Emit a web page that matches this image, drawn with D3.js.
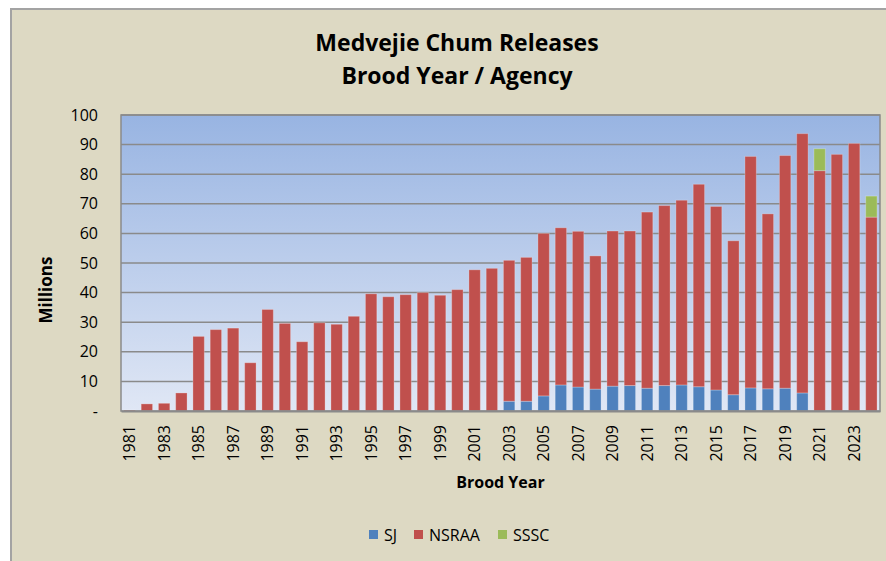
<!DOCTYPE html>
<html>
<head>
<meta charset="utf-8">
<script src="https://cdn.jsdelivr.net/npm/d3@7"></script>
<style>
  body { margin: 0; background: #fff; }
  text { font-family: "Open Sans", "Noto Sans", sans-serif; fill: #000; }
</style>
</head>
<body>
<div id="chart"></div>
<script>
var svgWidth = 886;
var svgHeight = 561;

// brood years and releases (millions) per agency
var years = d3.range(1981, 2025);
var sj = [0, 0, 0, 0, 0, 0, 0, 0, 0, 0,
          0, 0, 0, 0, 0, 0, 0, 0, 0, 0,
          0, 0, 3.3, 3.3, 5.1, 8.8, 8.1, 7.4, 8.4, 8.6,
          7.7, 8.6, 8.8, 8.2, 7.1, 5.5, 7.8, 7.5, 7.7, 6.1,
          0, 0, 0, 0];
var nsraa = [0.3, 2.4, 2.6, 6.1, 25.2, 27.5, 28.0, 16.3, 34.3, 29.6,
             23.4, 29.8, 29.3, 32.0, 39.6, 38.6, 39.3, 40.0, 39.1, 41.0,
             47.7, 48.2, 47.6, 48.6, 54.9, 53.1, 52.6, 45.0, 52.4, 52.2,
             59.5, 60.8, 62.4, 68.4, 62.0, 52.0, 78.2, 59.1, 78.6, 87.6,
             81.2, 86.7, 90.4, 65.5];
var sssc = [0, 0, 0, 0, 0, 0, 0, 0, 0, 0,
            0, 0, 0, 0, 0, 0, 0, 0, 0, 0,
            0, 0, 0, 0, 0, 0, 0, 0, 0, 0,
            0, 0, 0, 0, 0, 0, 0, 0, 0, 0,
            7.4, 0, 0, 7.1];
var agencies = ["SJ", "NSRAA", "SSSC"];
var colors = ["#4f81bd", "#c0504d", "#9bbb59"];
var yTicks = [0, 10, 20, 30, 40, 50, 60, 70, 80, 90, 100];

var margin = { top: 115, right: 6, bottom: 150, left: 121 };
var width = 880 - margin.left;
var height = 411 - margin.top;

var svg = d3.select("#chart")
    .append("svg")
    .attr("width", svgWidth)
    .attr("height", svgHeight);

// chart area background with border
svg.append("rect")
    .attr("x", 11).attr("y", 9)
    .attr("width", svgWidth).attr("height", svgHeight)
    .attr("fill", "#ddd9c3")
    .attr("stroke", "#a3a3a3")
    .attr("stroke-width", 2);

// gradient for the plot area
var grad = svg.append("defs").append("linearGradient")
    .attr("id", "plotGrad")
    .attr("x1", 0).attr("y1", 0).attr("x2", 0).attr("y2", 1);
grad.append("stop").attr("offset", "0%").attr("stop-color", "#98b4e2");
grad.append("stop").attr("offset", "100%").attr("stop-color", "#e0e7f5");

var chartGroup = svg.append("g")
    .attr("transform", `translate(${margin.left}, ${margin.top})`);

chartGroup.append("rect")
    .attr("width", width)
    .attr("height", height)
    .attr("fill", "url(#plotGrad)");

var table = years.map(function(y, i) {
    return { year: y, SJ: sj[i], NSRAA: nsraa[i], SSSC: sssc[i] };
});

var xBandScale = d3.scaleBand()
    .domain(years)
    .range([0, width])
    .paddingInner(0.34)
    .paddingOuter(0.17);

var yLinearScale = d3.scaleLinear()
    .domain([0, 100])
    .range([height, 0]);

// gridlines
chartGroup.append("g")
    .selectAll("line")
    .data(yTicks.filter(d => d > 0))
    .enter()
    .append("line")
    .attr("x1", 0)
    .attr("x2", width)
    .attr("y1", d => yLinearScale(d))
    .attr("y2", d => yLinearScale(d))
    .attr("stroke", "#8a8a8a")
    .attr("stroke-width", 1.5);

// stacked bars
var stacked = d3.stack().keys(agencies)(table);

chartGroup.append("g")
    .selectAll("g")
    .data(stacked)
    .enter()
    .append("g")
    .attr("fill", (d, i) => colors[i])
    .selectAll("rect")
    .data(d => d.filter(s => s[1] - s[0] > 0))
    .enter()
    .append("rect")
    .attr("x", d => xBandScale(d.data.year))
    .attr("y", d => yLinearScale(d[1]))
    .attr("width", xBandScale.bandwidth())
    .attr("height", d => yLinearScale(d[0]) - yLinearScale(d[1]))
    .attr("stroke", "rgba(255,255,255,0.25)")
    .attr("stroke-width", 1);

// plot border
chartGroup.append("rect")
    .attr("width", width)
    .attr("height", height)
    .attr("fill", "none")
    .attr("stroke", "#8a8a8a")
    .attr("stroke-width", 1.5);

// y axis
var leftAxis = d3.axisLeft(yLinearScale)
    .tickValues(yTicks)
    .tickSize(0)
    .tickPadding(23)
    .tickFormat(d => d === 0 ? "-" : d);

var yAxis = chartGroup.append("g").call(leftAxis);
yAxis.select(".domain").remove();
yAxis.selectAll("text")
    .style("font-size", "16px")
    .attr("fill", "#000");

// x axis, every other year labelled
var bottomAxis = d3.axisBottom(xBandScale)
    .tickSize(0)
    .tickFormat(d => (d - 1981) % 2 === 0 ? d : "");

var xAxis = chartGroup.append("g")
    .attr("transform", `translate(0, ${height})`)
    .call(bottomAxis);
xAxis.select(".domain")
    .attr("stroke", "#8a8a8a")
    .attr("stroke-width", 2);
xAxis.selectAll("text")
    .style("font-size", "16px")
    .style("text-anchor", "end")
    .attr("fill", "#000")
    .attr("transform", "rotate(-90)")
    .attr("x", -14)
    .attr("y", 0)
    .attr("dy", "0.35em");

// titles
svg.append("text")
    .attr("x", 457).attr("y", 51)
    .attr("text-anchor", "middle")
    .style("font-size", "23px").style("font-weight", "bold")
    .text("Medvejie Chum Releases");
svg.append("text")
    .attr("x", 457).attr("y", 84)
    .attr("text-anchor", "middle")
    .style("font-size", "23px").style("font-weight", "bold")
    .text("Brood Year / Agency");

svg.append("text")
    .attr("x", margin.left + width / 2).attr("y", 488)
    .attr("text-anchor", "middle")
    .style("font-size", "16px").style("font-weight", "bold")
    .text("Brood Year");

svg.append("text")
    .attr("transform", "translate(52, 290) rotate(-90)")
    .attr("text-anchor", "middle")
    .style("font-size", "17px").style("font-weight", "bold")
    .text("Millions");

// legend
var legendX = [369, 414, 498];
var legend = svg.append("g")
    .selectAll("g")
    .data(agencies)
    .enter()
    .append("g")
    .attr("transform", (d, i) => `translate(${legendX[i]}, 530)`);
legend.append("rect")
    .attr("width", 9).attr("height", 9)
    .attr("fill", (d, i) => colors[i]);
legend.append("text")
    .attr("x", 15).attr("y", 10.5)
    .style("font-size", "16px")
    .text(d => d);
</script>
</body>
</html>
